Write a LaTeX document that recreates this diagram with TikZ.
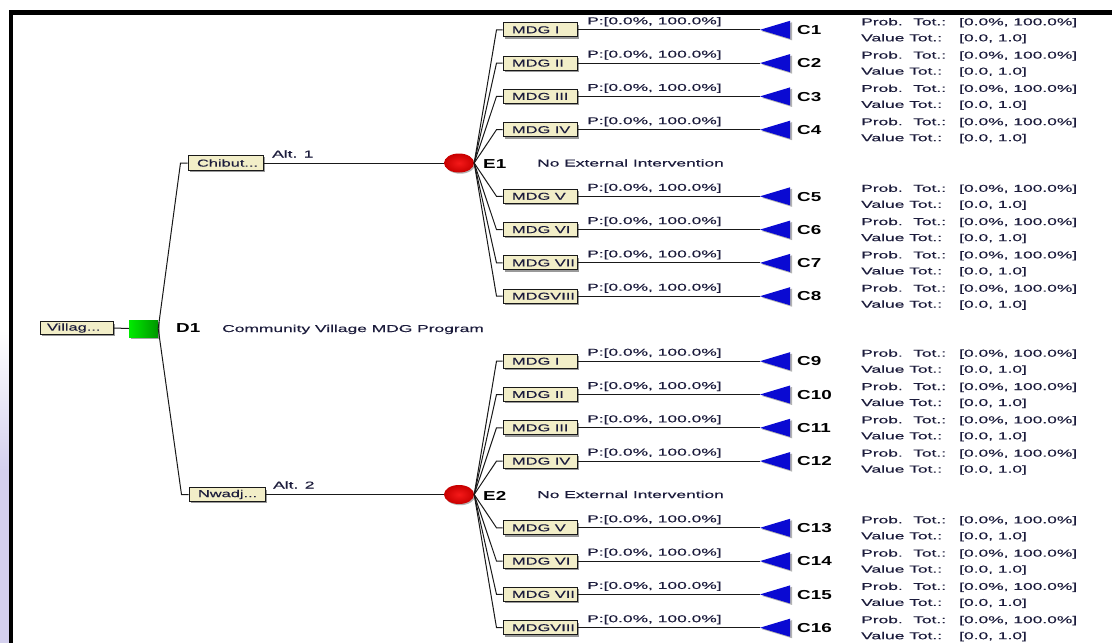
\documentclass[tikz,border=0pt]{standalone}
\usepackage{fontspec}
\usetikzlibrary{shadows,shapes.geometric}
\newfontfamily\lblfont[FakeStretch=1.74,FakeBold=0.3]{Liberation Sans}
\newfontfamily\boxfont[FakeStretch=1.64,FakeBold=0.3]{Liberation Sans}
\newfontfamily\idfont[FakeStretch=1.45]{Liberation Sans}
\definecolor{txt}{RGB}{28,28,60}
\definecolor{boxfill}{RGB}{242,238,200}
\definecolor{triblue}{RGB}{10,10,210}
\definecolor{lav}{RGB}{212,208,238}
\definecolor{redin}{RGB}{245,25,25}
\definecolor{redout}{RGB}{200,0,0}
\definecolor{grnl}{RGB}{0,235,0}
\definecolor{grnr}{RGB}{0,150,0}
\newcommand{\bx}[2][9pt]{\makebox[74pt][l]{\hspace*{#1}#2}}
\begin{document}
\begin{tikzpicture}[x=1pt,y=-1pt,
  lbl/.style={font=\lblfont\fontsize{10}{10}\selectfont, text=txt, inner sep=0pt, anchor=base west},
  idl/.style={font=\idfont\bfseries\fontsize{13}{13}\selectfont, text=black, inner sep=0pt, anchor=base west},
  mdg/.style={draw=black!90, line width=1pt, fill=boxfill, minimum height=14pt, inner sep=0pt,
     font=\boxfont\fontsize{10}{10}\selectfont, text=txt,
     drop shadow={shadow xshift=1.8pt, shadow yshift=-1.8pt, fill=gray!80, opacity=1}},
  conn/.style={draw=black!90, line width=1pt},
  chance/.style={ellipse, minimum width=30pt, minimum height=19pt, inner sep=0pt,
     inner color=redin, outer color=redout,
     drop shadow={shadow xshift=1.2pt, shadow yshift=-1.2pt, fill=gray!60, opacity=1}},
  decision/.style={rectangle, minimum width=29pt, minimum height=17pt, inner sep=0pt,
     left color=grnl, right color=grnr,
     drop shadow={shadow xshift=1.5pt, shadow yshift=-1.5pt, fill=gray!70, opacity=1}}
]
\useasboundingbox (0,0) rectangle (1112,643);
\fill[white] (0,0) rectangle (1112,643);
\shade[top color=white, bottom color=lav] (0,330) rectangle (9,470);
\fill[lav] (0,470) rectangle (9,643);
\fill[black] (9,10) rectangle (1112,14.5);
\fill[black] (9,10) rectangle (13,643);

% root
\node[mdg, minimum width=73pt, minimum height=12.5pt] (v) at (76.5,328) {\makebox[73pt][l]{\hspace*{7pt}Villag...}};
\node[decision] (d1) at (143.5,328.5) {};
\draw[conn] (v.east) -- (d1.west);
\node[idl] (d1lab) at (176,332.5) {D1};
\node[lbl] (d1txt) at (222,332) {Community Village MDG Program};

% alternatives
\node[mdg, minimum width=75pt, minimum height=15pt] (a1) at (225.5,163) {\makebox[75pt][l]{\hspace*{9pt}Chibut...}};
\node[mdg, minimum width=76pt, minimum height=13.5pt] (a2) at (227,494.5) {\makebox[76pt][l]{\hspace*{9pt}Nwadj...}};
\draw[conn] (d1.east) -- ([xshift=-7pt]a1.west) -- (a1.west);
\draw[conn] (d1.east) -- ([xshift=-7pt]a2.west) -- (a2.west);
\node[lbl] (alt1) at (272,157.5) {Alt. 1};
\node[lbl] (alt2) at (273,488.5) {Alt. 2};

% chance nodes
\node[chance] (e1) at (459,163) {};
\node[chance] (e2) at (459,494.5) {};
\draw[conn] (a1.east) -- (e1.west);
\draw[conn] (a2.east) -- (e2.west);
\node[idl] (e1lab) at (483,168.5) {E1};
\node[idl] (e2lab) at (483,500) {E2};
\node[lbl] (e1txt) at (537,166.5) {No External Intervention};
\node[lbl] (e2txt) at (537,498) {No External Intervention};

% outcome rows
\foreach \i/\y/\lab/\e in {
  1/29.8/MDG I/e1, 2/63.1/MDG II/e1, 3/96.4/MDG III/e1, 4/129.7/MDG IV/e1,
  5/196.3/MDG V/e1, 6/229.6/MDG VI/e1, 7/262.9/MDG VII/e1, 8/296.2/MDGVIII/e1,
  9/361.2/MDG I/e2, 10/394.5/MDG II/e2, 11/427.8/MDG III/e2, 12/461.1/MDG IV/e2,
  13/527.8/MDG V/e2, 14/561.1/MDG VI/e2, 15/594.4/MDG VII/e2, 16/627.7/MDGVIII/e2}{
  \node[mdg] (m\i) at (540,\y) {\bx{\lab}};
  \coordinate (t\i) at (760,\y);
  \draw[conn] (\e.east) -- ([xshift=-6pt]m\i.west) -- (m\i.west);
  \draw[conn] (m\i.east) -- (t\i);
  \fill[gray!60] ([shift={(2pt,-1.5pt)}]t\i) -- ++(30,-9) -- ++(0,18) -- cycle;
  \fill[triblue] (t\i) -- ++(30,-9) -- ++(0,18) -- cycle;
  \node[lbl] (p\i) at (587,\y-5.5) {P:[0.0\%, 100.0\%]};
  \node[idl] (c\i) at (797,\y+4.7) {C\i};
  \node[lbl] (pt\i) at (861,\y-4.5) {\makebox[52pt][l]{Prob.}\makebox[46pt][l]{Tot.:}[0.0\%, 100.0\%]};
  \node[lbl] (vt\i) at (861,\y+11.5) {\makebox[48pt][l]{Value}\makebox[50pt][l]{Tot.:}[0.0, 1.0]};
}
\end{tikzpicture}
\end{document}
